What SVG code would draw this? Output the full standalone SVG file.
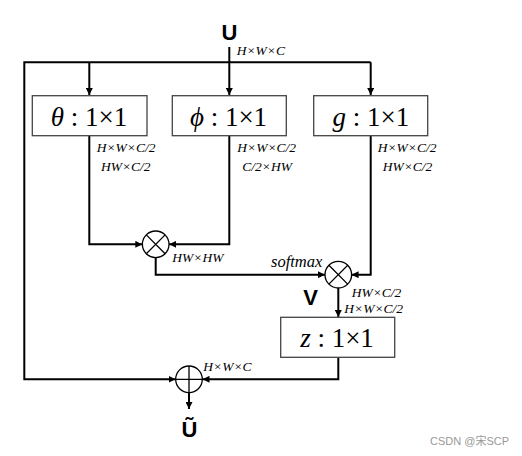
<svg xmlns="http://www.w3.org/2000/svg" width="522" height="456" viewBox="0 0 522 456">
<style>
.c{fill:none;stroke:#000;stroke-width:2}
.box{fill:#fff;stroke:#444;stroke-width:1.3}
.op{fill:#fff;stroke:#000;stroke-width:1.3}
.bt{font-family:'Liberation Serif','Times New Roman','DejaVu Serif',serif;font-size:27px;text-anchor:middle}
.lb{font-family:'Liberation Serif','Times New Roman','DejaVu Serif',serif;font-style:italic;font-size:13.5px}
.bold{font-family:'Liberation Sans',Arial,sans-serif;font-weight:bold;font-size:22px;text-anchor:middle}
</style>
<defs>
<marker id="ah" markerUnits="userSpaceOnUse" markerWidth="7" markerHeight="7" refX="7" refY="3.5" orient="auto">
<path d="M0,0 L7,3.5 L0,7 z" fill="#000"/>
</marker>
</defs>
<rect width="522" height="456" fill="#fff"/>
<g id="connectors">
<path class="c" d="M229.3,47 V95" marker-end="url(#ah)"/>
<path class="c" d="M370.7,62.3 H24.3 V379.3 H175.5" marker-end="url(#ah)"/>
<path class="c" d="M89.3,62.3 V95" marker-end="url(#ah)"/>
<path class="c" d="M370.7,62.3 V95" marker-end="url(#ah)"/>
<path class="c" d="M89.3,135.7 V244.3 H142.3" marker-end="url(#ah)"/>
<path class="c" d="M229.3,135.7 V244.3 H169.2" marker-end="url(#ah)"/>
<path class="c" d="M155.7,257.6 V274.7 H325" marker-end="url(#ah)"/>
<path class="c" d="M370.7,135.7 V274.7 H351.6" marker-end="url(#ah)"/>
<path class="c" d="M338.3,288 V317" marker-end="url(#ah)"/>
<path class="c" d="M338.3,357.3 V379.3 H202.5" marker-end="url(#ah)"/>
<path class="c" d="M189,392.6 V409" marker-end="url(#ah)"/>
</g>
<g id="input-U"><text class="bold" x="229.5" y="40">U</text>
<text class="lb" x="236.7" y="55">H×W×C</text></g>
<g id="theta">
<rect class="box" x="32.3" y="95.7" width="114.7" height="40"/>
<text class="bt" x="89" y="125.7"><tspan font-style="italic">θ</tspan> : 1×1</text>
</g>
<g id="phi">
<rect class="box" x="172.3" y="95.7" width="114" height="40"/>
<text class="bt" x="228.5" y="125.7"><tspan font-style="italic">ϕ</tspan> : 1×1</text>
</g>
<g id="g">
<rect class="box" x="313.7" y="95.7" width="114" height="40"/>
<text class="bt" x="370.8" y="125.7"><tspan font-style="italic">g</tspan> : 1×1</text>
</g>
<g id="labels">
<text class="lb" x="96.7" y="152">H×W×C/2</text>
<text class="lb" x="101" y="171">HW×C/2</text>
<text class="lb" x="237.3" y="152">H×W×C/2</text>
<text class="lb" x="242.3" y="171">C/2×HW</text>
<text class="lb" x="377.7" y="152">H×W×C/2</text>
<text class="lb" x="382.7" y="171">HW×C/2</text>
<text class="lb" x="172.3" y="262">HW×HW</text>
<text class="lb" x="271" y="266.5" style="font-size:16.5px">softmax</text>
<text class="lb" x="351.7" y="297">HW×C/2</text>
<text class="lb" x="344.3" y="312.5">H×W×C/2</text>
<text class="lb" x="203.3" y="371">H×W×C</text>
</g>
<g id="mul1">
<circle class="op" cx="155.7" cy="244.3" r="13.3"/>
<path class="op" d="M146.3,234.9 L165.1,253.7 M165.1,234.9 L146.3,253.7"/>
</g>
<g id="mul2">
<circle class="op" cx="338.3" cy="274.7" r="13.3"/>
<path class="op" d="M328.9,265.3 L347.7,284.1 M347.7,265.3 L328.9,284.1"/>
</g>
<g id="V"><text class="bold" x="310.5" y="305">V</text></g>
<g id="z">
<rect class="box" x="280.7" y="317.3" width="114" height="40"/>
<text class="bt" x="337" y="346.7"><tspan font-style="italic">z</tspan> : 1×1</text>
</g>
<g id="add">
<circle class="op" cx="189" cy="379.3" r="13.3"/>
<path class="op" d="M175.7,379.3 H202.3 M189,366 V392.6"/>
</g>
<g id="output"><text class="bold" x="189.5" y="437">Ũ</text></g>
<text x="430" y="445" font-family="'Liberation Sans','Noto Sans CJK SC',sans-serif" font-size="11px" fill="#999">CSDN @宋SCP</text>
</svg>
